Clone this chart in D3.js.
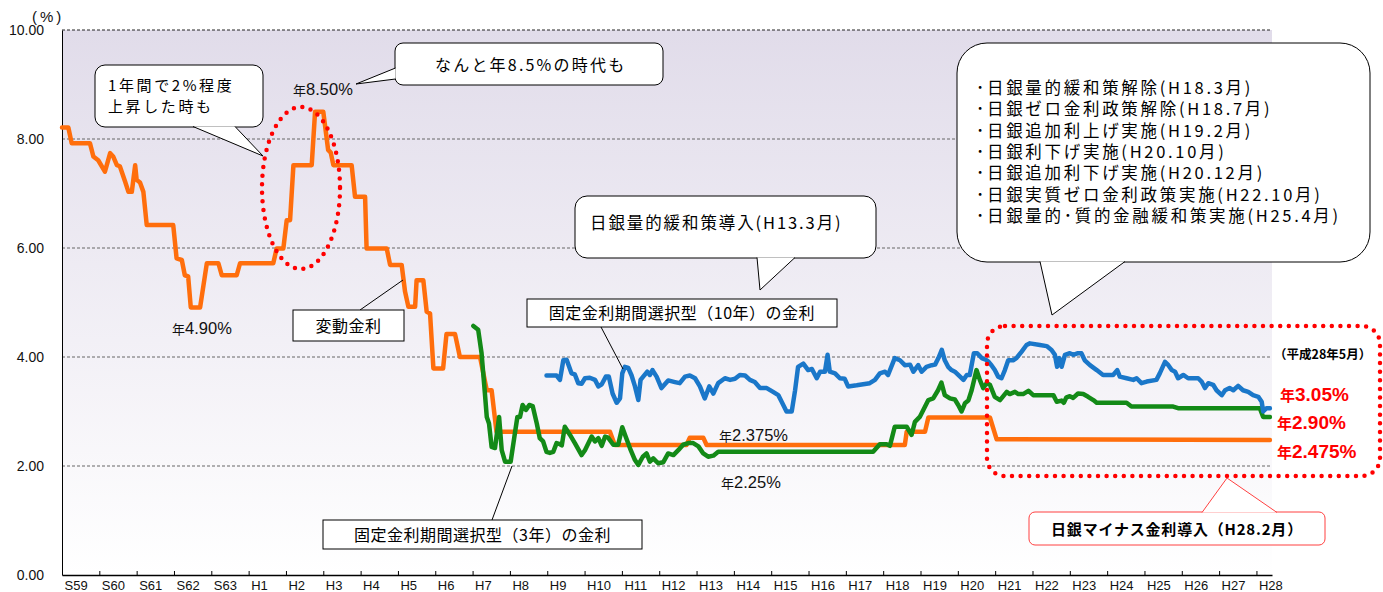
<!DOCTYPE html>
<html>
<head>
<meta charset="utf-8">
<script src="https://cdn.jsdelivr.net/npm/d3@7"></script>
<style>
  body { margin: 0; background: #fff; }
  svg text { font-family: "Noto Sans CJK JP", "Liberation Sans", sans-serif; }
  .num { font-family: "Liberation Sans", Arial, sans-serif; }
</style>
</head>
<body>
<script>
// axis labels (showa / heisei years)
const yearLabels = ["S59", "S60", "S61", "S62", "S63", "H1", "H2", "H3", "H4", "H5", "H6", "H7", "H8", "H9", "H10", "H11", "H12",
    "H13", "H14", "H15", "H16", "H17", "H18", "H19", "H20", "H21", "H22", "H23", "H24", "H25", "H26", "H27", "H28"];
const firstYear = 1984;
const yTicks = [0, 2, 4, 6, 8, 10];

// 変動金利 [year, %]
const variableRate = [[1984.00, 8.21], [1984.17, 8.21], [1984.26, 7.92], [1984.75, 7.92], [1984.84, 7.68], [1984.97, 7.61],
    [1985.15, 7.40], [1985.29, 7.74], [1985.37, 7.68], [1985.47, 7.52], [1985.55, 7.50], [1985.69, 7.22], [1985.78, 7.03],
    [1985.87, 7.03], [1985.96, 7.52], [1986.00, 7.25], [1986.09, 7.20], [1986.18, 7.03], [1986.27, 6.42], [1986.98, 6.42],
    [1987.07, 5.81], [1987.21, 5.78], [1987.29, 5.50], [1987.38, 5.48], [1987.45, 4.91], [1987.70, 4.91], [1987.88, 5.72],
    [1988.19, 5.72], [1988.28, 5.50], [1988.68, 5.50], [1988.77, 5.72], [1989.66, 5.72], [1989.75, 5.99], [1989.93, 5.99],
    [1990.02, 6.51], [1990.11, 6.51], [1990.20, 7.52], [1990.69, 7.52], [1990.78, 8.50], [1991.00, 8.50], [1991.13, 7.80],
    [1991.20, 7.75], [1991.27, 7.52], [1991.76, 7.52], [1991.85, 6.94], [1992.12, 6.94], [1992.16, 5.99], [1992.70, 5.99],
    [1992.79, 5.69], [1993.10, 5.69], [1993.19, 5.20], [1993.28, 4.92], [1993.46, 4.92], [1993.50, 5.41], [1993.68, 5.41],
    [1993.77, 4.83], [1993.86, 4.80], [1993.95, 3.79], [1994.21, 3.79], [1994.30, 4.42], [1994.53, 4.42], [1994.66, 4.00],
    [1995.20, 4.00], [1995.38, 3.39], [1995.51, 3.39], [1995.64, 2.63], [1998.68, 2.63], [1998.81, 2.385], [2000.73, 2.385],
    [2000.82, 2.52], [2001.18, 2.52], [2001.27, 2.385], [2006.58, 2.385], [2006.63, 2.63], [2007.12, 2.63], [2007.21, 2.89],
    [2008.86, 2.89], [2009.04, 2.49], [2016.36, 2.475]];

// 固定金利期間選択型(3年)
const fixed3 = [[1995.02, 4.57], [1995.15, 4.50], [1995.24, 4.07], [1995.33, 3.33], [1995.38, 2.90], [1995.44, 2.78],
    [1995.51, 2.35], [1995.60, 2.33], [1995.71, 2.90], [1995.78, 2.29], [1995.87, 2.08], [1996.02, 2.08], [1996.12, 2.54],
    [1996.20, 2.90], [1996.27, 2.90], [1996.34, 3.12], [1996.43, 3.03], [1996.52, 3.12], [1996.61, 3.10], [1996.72, 2.78],
    [1996.80, 2.51], [1996.89, 2.45], [1996.98, 2.26], [1997.07, 2.24], [1997.16, 2.26], [1997.25, 2.42], [1997.34, 2.40],
    [1997.39, 2.38], [1997.47, 2.72], [1997.61, 2.57], [1997.74, 2.42], [1997.92, 2.20], [1998.01, 2.29], [1998.19, 2.54],
    [1998.28, 2.45], [1998.37, 2.51], [1998.46, 2.37], [1998.55, 2.54], [1998.63, 2.52], [1998.77, 2.39], [1998.90, 2.39],
    [1999.01, 2.71], [1999.10, 2.54], [1999.22, 2.32], [1999.35, 2.11], [1999.44, 2.02], [1999.56, 2.17], [1999.66, 2.23],
    [1999.75, 2.08], [1999.84, 2.14], [1999.97, 2.05], [2000.11, 2.07], [2000.24, 2.23], [2000.38, 2.20], [2000.51, 2.29],
    [2000.64, 2.39], [2000.78, 2.42], [2000.91, 2.42], [2001.05, 2.36], [2001.18, 2.23], [2001.31, 2.17], [2001.45, 2.19],
    [2001.58, 2.26], [2005.73, 2.26], [2005.91, 2.40], [2006.09, 2.40], [2006.18, 2.37], [2006.31, 2.72], [2006.63, 2.72],
    [2006.76, 2.57], [2006.85, 2.81], [2006.98, 2.90], [2007.21, 3.21], [2007.34, 3.24], [2007.47, 3.39], [2007.56, 3.53],
    [2007.65, 3.30], [2007.79, 3.24], [2007.92, 3.22], [2008.01, 3.12], [2008.10, 3.00], [2008.19, 3.15], [2008.28, 3.20],
    [2008.37, 3.39], [2008.50, 3.76], [2008.59, 3.58], [2008.68, 3.43], [2008.77, 3.52], [2008.86, 3.49], [2008.99, 3.27],
    [2009.13, 3.21], [2009.31, 3.36], [2009.39, 3.32], [2009.53, 3.36], [2009.62, 3.32], [2009.75, 3.32], [2009.89, 3.38],
    [2010.02, 3.30], [2010.56, 3.30], [2010.65, 3.18], [2010.78, 3.20], [2010.84, 3.16], [2010.91, 3.26], [2011.00, 3.28],
    [2011.09, 3.25], [2011.22, 3.33], [2011.36, 3.32], [2011.49, 3.27], [2011.63, 3.21], [2011.72, 3.16], [2012.52, 3.16],
    [2012.65, 3.09], [2013.77, 3.09], [2013.90, 3.06], [2016.09, 3.06], [2016.18, 2.90], [2016.36, 2.90]];

// 固定金利期間選択型(10年)
const fixed10 = [[1996.98, 3.66], [1997.25, 3.66], [1997.34, 3.58], [1997.43, 3.94], [1997.52, 3.95], [1997.65, 3.70],
    [1997.74, 3.68], [1997.83, 3.52], [1997.92, 3.51], [1998.01, 3.61], [1998.14, 3.62], [1998.28, 3.58], [1998.37, 3.46],
    [1998.46, 3.50], [1998.57, 3.64], [1998.65, 3.64], [1998.75, 3.33], [1998.86, 3.16], [1998.95, 3.24], [1999.01, 3.70],
    [1999.08, 3.82], [1999.17, 3.80], [1999.26, 3.66], [1999.35, 3.46], [1999.44, 3.21], [1999.50, 3.58], [1999.57, 3.64],
    [1999.68, 3.73], [1999.75, 3.67], [1999.82, 3.76], [1999.93, 3.64], [2000.06, 3.43], [2000.24, 3.57], [2000.42, 3.54],
    [2000.55, 3.52], [2000.69, 3.64], [2000.82, 3.66], [2000.96, 3.61], [2001.09, 3.46], [2001.22, 3.24], [2001.34, 3.46],
    [2001.45, 3.33], [2001.58, 3.52], [2001.76, 3.61], [2001.90, 3.58], [2002.03, 3.60], [2002.16, 3.67], [2002.30, 3.66],
    [2002.43, 3.58], [2002.56, 3.54], [2002.70, 3.43], [2002.88, 3.43], [2003.05, 3.36], [2003.19, 3.30], [2003.28, 3.18],
    [2003.41, 3.00], [2003.55, 3.00], [2003.64, 3.39], [2003.72, 3.82], [2003.86, 3.88], [2003.99, 3.76], [2004.09, 3.78],
    [2004.22, 3.61], [2004.31, 3.73], [2004.44, 3.73], [2004.51, 4.04], [2004.57, 3.73], [2004.71, 3.70], [2004.84, 3.61],
    [2004.97, 3.60], [2005.06, 3.46], [2005.29, 3.48], [2005.64, 3.52], [2005.78, 3.58], [2005.91, 3.70], [2006.05, 3.73],
    [2006.13, 3.67], [2006.31, 3.98], [2006.45, 3.94], [2006.58, 3.85], [2006.72, 3.86], [2006.81, 3.73], [2006.94, 3.85],
    [2007.03, 3.73], [2007.16, 3.82], [2007.30, 3.85], [2007.39, 3.86], [2007.48, 3.98], [2007.57, 4.13], [2007.65, 3.94],
    [2007.74, 3.82], [2007.83, 3.76], [2007.92, 3.73], [2008.06, 3.64], [2008.15, 3.58], [2008.24, 3.67], [2008.32, 3.67],
    [2008.43, 4.07], [2008.52, 4.07], [2008.64, 3.98], [2008.75, 3.95], [2008.81, 3.92], [2008.90, 3.85], [2008.99, 3.76],
    [2009.08, 3.64], [2009.17, 3.61], [2009.26, 3.76], [2009.35, 3.94], [2009.48, 3.94], [2009.57, 3.98], [2009.71, 4.10],
    [2009.84, 4.22], [2009.93, 4.25], [2010.20, 4.22], [2010.38, 4.20], [2010.51, 4.13], [2010.60, 4.04], [2010.66, 3.82],
    [2010.72, 3.98], [2010.78, 3.82], [2010.87, 4.04], [2011.00, 4.07], [2011.09, 4.04], [2011.22, 4.07], [2011.31, 4.07],
    [2011.40, 3.94], [2011.54, 3.85], [2011.72, 3.76], [2011.89, 3.67], [2012.16, 3.67], [2012.27, 3.76], [2012.34, 3.64],
    [2012.52, 3.61], [2012.70, 3.58], [2012.79, 3.61], [2012.92, 3.52], [2013.06, 3.55], [2013.32, 3.58], [2013.41, 3.70],
    [2013.55, 3.91], [2013.64, 3.85], [2013.73, 3.76], [2013.82, 3.73], [2013.90, 3.61], [2014.04, 3.67], [2014.17, 3.61],
    [2014.44, 3.61], [2014.53, 3.55], [2014.62, 3.43], [2014.71, 3.52], [2014.84, 3.49], [2014.93, 3.39], [2015.07, 3.30],
    [2015.16, 3.39], [2015.28, 3.43], [2015.38, 3.39], [2015.51, 3.47], [2015.64, 3.39], [2015.78, 3.36], [2015.91, 3.30],
    [2016.05, 3.27], [2016.14, 3.18], [2016.18, 3.00], [2016.27, 3.06], [2016.36, 3.06]];

const boj = ["･日銀量的緩和策解除(H18.3月)", "･日銀ゼロ金利政策解除(H18.7月)", "･日銀追加利上げ実施(H19.2月)",
    "･日銀利下げ実施(H20.10月)", "･日銀追加利下げ実施(H20.12月)", "･日銀実質ゼロ金利政策実施(H22.10月)", "･日銀量的･質的金融緩和策実施(H25.4月)"];

const w = 1383, h = 592;
// Jan 1984 .. end of May 2016
const x = d3.scaleLinear().domain([firstYear, firstYear + 389 / 12]).range([62, 1272]);
const y = d3.scaleLinear().domain([0, 10]).range([575, 30]);

const svg = d3.select('body').append('svg').attr('width', w).attr('height', h);

const grad = svg.append('defs').append('linearGradient').attr('id', 'bg')
    .attr('x1', 0).attr('y1', 0).attr('x2', 0).attr('y2', 1);
grad.append('stop').attr('offset', '0%').attr('stop-color', '#e1dcea');
grad.append('stop').attr('offset', '100%').attr('stop-color', '#ffffff');

svg.append('rect')
    .attr('x', x.range()[0]).attr('y', y(10))
    .attr('width', x.range()[1] - x.range()[0]).attr('height', y(0) - y(10))
    .attr('fill', 'url(#bg)');

// grid
svg.selectAll('.grid').data(yTicks.filter(d => d > 0)).enter().append('line')
    .attr('x1', x.range()[0]).attr('x2', x.range()[1])
    .attr('y1', d => y(d)).attr('y2', d => y(d))
    .attr('stroke', d => d === 10 ? '#222' : '#666')
    .attr('stroke-width', 1)
    .attr('stroke-dasharray', '3,2');

// y axis
const yAxis = d3.axisLeft(y).tickValues(yTicks).tickFormat(d3.format('.2f')).tickSize(0).tickPadding(18);
const gy = svg.append('g').attr('transform', `translate(${x.range()[0]},0)`).call(yAxis);
gy.select('.domain').attr('stroke', '#000');
gy.selectAll('text').attr('class', 'num').style('font-size', '14px').attr('fill', '#111');

svg.append('text').attr('class', 'num').attr('x', 32).attr('y', 22)
    .style('font-size', '15px').style('letter-spacing', '3px').attr('fill', '#111').text('(%)');

// x axis
const gx = svg.append('g').attr('transform', `translate(0,${y(0)})`)
    .call(d3.axisBottom(x).tickValues(yearLabels.map((d, i) => firstYear + i))
        .tickFormat((d, i) => yearLabels[i]).tickSizeInner(-4).tickSizeOuter(0).tickPadding(6));
gx.select('.domain').attr('stroke', '#000').attr('stroke-width', 1.5);
gx.selectAll('text')
    .attr('text-anchor', 'start').attr('x', 2)
    .style('font-family', '"Liberation Sans Narrow", "Liberation Sans", sans-serif')
    .style('font-size', '13px').attr('fill', '#111');

// lines
const line = d3.line().x(d => x(d[0])).y(d => y(d[1]));
const series = [
    {data: variableRate, color: '#ff6e0c'},
    {data: fixed3, color: '#138a17'},
    {data: fixed10, color: '#1a77c9'}
];
svg.selectAll('.series').data(series).enter().append('path')
    .attr('d', d => line(d.data))
    .attr('fill', 'none')
    .attr('stroke', d => d.color)
    .attr('stroke-width', 4.5)
    .attr('stroke-linejoin', 'round')
    .attr('stroke-linecap', 'round');

// red dotted marks
const dots = {stroke: 'red', 'stroke-width': 4.5, 'stroke-dasharray': '0 8.6', 'stroke-linecap': 'round', fill: 'none'};
const ell = svg.append('ellipse').attr('cx', 301).attr('cy', 188).attr('rx', 39).attr('ry', 81);
const rrect = svg.append('rect').attr('x', 987).attr('y', 326).attr('width', 393).attr('height', 150).attr('rx', 18);
for (const k in dots) { ell.attr(k, dots[k]); rrect.attr(k, dots[k]); }

// callouts
function callout(bx, by, bw, bh, r, base, apex, color) {
    const g = svg.append('g');
    g.append('rect').attr('x', bx).attr('y', by).attr('width', bw).attr('height', bh).attr('rx', r)
        .attr('fill', '#fff').attr('stroke', color || '#000').attr('stroke-width', 1);
    g.append('path').attr('d', `M${base[0][0]},${base[0][1]}L${apex[0]},${apex[1]}L${base[1][0]},${base[1][1]}Z`)
        .attr('fill', '#fff').attr('stroke', 'none');
    g.append('path').attr('d', `M${base[0][0]},${base[0][1]}L${apex[0]},${apex[1]}L${base[1][0]},${base[1][1]}`)
        .attr('fill', 'none').attr('stroke', color || '#000').attr('stroke-width', 1);
    return g;
}
// multi-line text in one element
function label(tx, ty, lines, size, spacing, lh) {
    const t = svg.append('text').attr('x', tx).attr('y', ty)
        .style('font-size', size + 'px').style('letter-spacing', spacing + 'px');
    lines.forEach((s, i) => {
        t.append('tspan').attr('x', tx).attr('dy', i === 0 ? 0 : lh).text(s);
    });
}

callout(95, 65, 168, 62, 10, [[193, 126.5], [235, 126.5]], [263, 156]);
label(108, 91, ['1年間で2%程度', '上昇した時も'], 15, 2.6, 20.5);

callout(395, 43, 268, 42, 8, [[395.5, 68], [395.5, 79]], [356, 84]);
label(435, 71, ['なんと年8.5%の時代も'], 16, 2.2, 0);

callout(575, 196, 301, 62, 12, [[757, 257.5], [795, 257.5]], [760, 290]);
label(590, 229, ['日銀量的緩和策導入(H13.3月)'], 16.5, 1.9, 0);

callout(957, 43, 413, 219, 30, [[1040, 261.5], [1125, 261.5]], [1052, 315]);
label(976, 94, boj, 16.5, 2.7, 21.3);

callout(1029, 512, 296, 33, 6, [[1202, 512.5], [1277, 512.5]], [1227, 478], '#ff4040');
svg.append('text').attr('x', 1177).attr('y', 535).attr('text-anchor', 'middle')
    .style('font-size', '15px').style('font-weight', 'bold').style('letter-spacing', '0.8px')
    .text('日銀マイナス金利導入（H28.2月）');

// square boxes with leader lines
function box(bx, by, bw, bh, text, from, to) {
    svg.append('line').attr('x1', from[0]).attr('y1', from[1]).attr('x2', to[0]).attr('y2', to[1])
        .attr('stroke', '#000').attr('stroke-width', 1);
    svg.append('rect').attr('x', bx).attr('y', by).attr('width', bw).attr('height', bh)
        .attr('fill', '#fff').attr('stroke', '#000').attr('stroke-width', 1);
    svg.append('text').attr('x', bx + bw / 2).attr('y', by + bh / 2 + 6).attr('text-anchor', 'middle')
        .style('font-size', '16px').style('letter-spacing', '0.5px').text(text);
}
box(293, 310, 111, 31, '変動金利', [360, 310], [403, 280]);
box(527, 299, 310, 28, '固定金利期間選択型（10年）の金利', [601, 327], [623, 369]);
box(323, 520, 319, 29, '固定金利期間選択型（3年）の金利', [512, 466], [492, 520]);

// value labels
function rate(tx, ty, v, big, small, opts) {
    const t = svg.append('text').attr('x', tx).attr('y', ty).attr('fill', opts.color || '#111')
        .style('font-weight', opts.bold ? 'bold' : 'normal');
    t.append('tspan').style('font-size', small + 'px').text('年');
    t.append('tspan').attr('class', 'num').style('font-size', big + 'px').text(v);
}
rate(293, 95, '8.50%', 16.5, 13, {});
rate(172, 334, '4.90%', 16.5, 13, {});
rate(719, 441, '2.375%', 16.5, 13, {});
rate(721, 488, '2.25%', 16.5, 13, {});
rate(1280, 401, '3.05%', 19, 15, {color: '#ff0000', bold: true});
rate(1277, 429, '2.90%', 19, 15, {color: '#ff0000', bold: true});
rate(1277, 458, '2.475%', 19, 15, {color: '#ff0000', bold: true});
svg.append('text').attr('x', 1274).attr('y', 359).style('font-size', '12.5px').style('font-weight', 'bold')
    .text('（平成28年5月）');
</script>
</body>
</html>
